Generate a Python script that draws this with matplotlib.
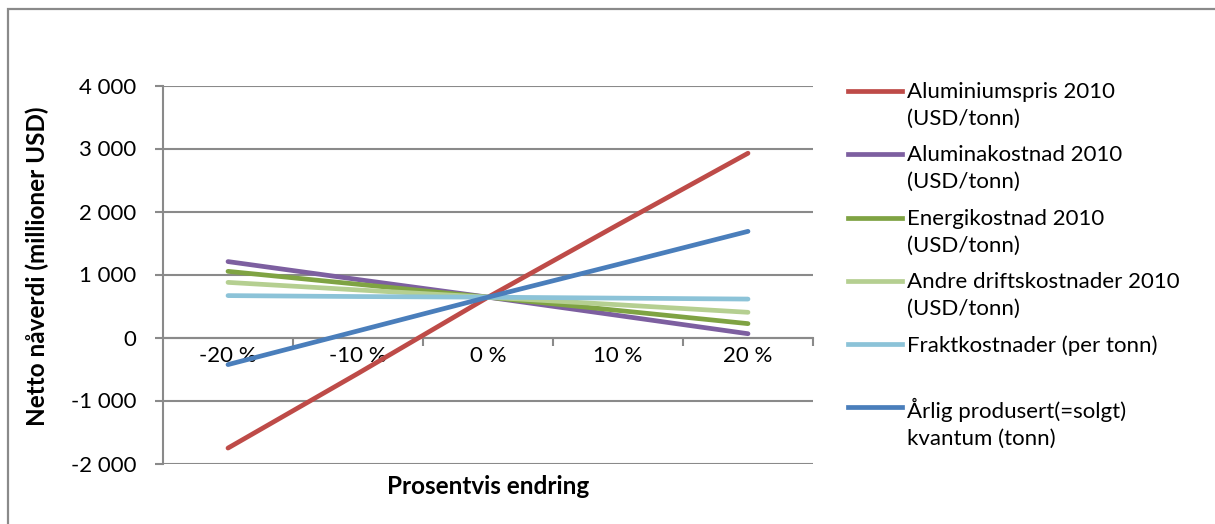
import matplotlib.pyplot as plt
from matplotlib.lines import Line2D
from matplotlib.patches import Rectangle
from matplotlib.ticker import FuncFormatter, FixedLocator

# sensitivity of net present value to +/- changes in each input
categories = ["-20 %", "-10 %", "0 %", "10 %", "20 %"]
aluminiumspris = [-1755, -570, 640, 1790, 2925]
aluminakostnad = [1205, 920, 640, 350, 60]
energikostnad = [1050, 845, 640, 430, 220]
andre_drift = [875, 755, 640, 520, 400]
fraktkostnad = [665, 650, 640, 625, 610]
kvantum = [-430, 105, 640, 1160, 1685]

series_labels = [
    "Aluminiumspris 2010\n(USD/tonn)",
    "Aluminakostnad 2010\n(USD/tonn)",
    "Energikostnad 2010\n(USD/tonn)",
    "Andre driftskostnader 2010\n(USD/tonn)",
    "Fraktkostnader (per tonn)",
    "Årlig produsert(=solgt)\nkvantum (tonn)",
]
series_values = [aluminiumspris, aluminakostnad, energikostnad,
                 andre_drift, fraktkostnad, kvantum]
series_colors = ["#BE4B48", "#7D5FA0", "#7FA343", "#B5CF91", "#8CC3D8", "#4A7EBB"]

GRID = "#8A8A8A"
W, H = 1215, 524
FS = 16

plt.rcParams["font.family"] = ["Lato", "DejaVu Sans"]

fig = plt.figure(figsize=(W / 100, H / 100), dpi=100)

# outer chart frame
fig.add_artist(Rectangle((8 / W, -0.1), 1.2, 1 - 9 / H + 0.1, transform=fig.transFigure,
                         fill=False, edgecolor=GRID, linewidth=1.6))

left, right, top, bottom = 163, 813, 85.5, 463.5
ax = fig.add_axes([left / W, 1 - bottom / H, (right - left) / W, (bottom - top) / H])

x = list(range(len(categories)))
# draw the strongly sloped series last so they sit on top
order = [3, 2, 1, 4, 5, 0]
for i in order:
    ax.plot(x, series_values[i], color=series_colors[i], lw=3.4,
            solid_capstyle="round", zorder=3 + i * 0.01)

ax.set_xlim(-0.5, len(categories) - 0.5)
ax.set_ylim(-2000, 4000)
ax.set_yticks(range(-2000, 4001, 1000))
ax.yaxis.set_major_formatter(FuncFormatter(lambda v, p: f"{int(v):,}".replace(",", " ")))
ax.grid(axis="y", color=GRID, lw=1.5, zorder=1)
ax.set_axisbelow(True)

for s in ["top", "right"]:
    ax.spines[s].set_visible(False)
ax.spines["left"].set_color(GRID)
ax.spines["left"].set_linewidth(1.5)
ax.spines["bottom"].set_position(("data", 0))
ax.spines["bottom"].set_color(GRID)
ax.spines["bottom"].set_linewidth(1.5)

ax.set_xticks(x)
ax.set_xticklabels(categories)
ax.xaxis.set_minor_locator(FixedLocator([i + 0.5 for i in x]))
ax.tick_params(axis="x", which="major", length=0, pad=6, labelsize=FS)
ax.tick_params(axis="x", which="minor", length=6, width=1.5, color=GRID, direction="out")
ax.tick_params(axis="y", length=6, width=1.5, color=GRID, pad=13, labelsize=FS)

fig.text(488 / W, 1 - 487 / H, "Prosentvis endring", ha="center", va="center",
         fontsize=17.5, fontweight="bold")
fig.text(37 / W, 1 - 266 / H, "Netto nåverdi (millioner USD)", ha="center", va="center",
         rotation=90, fontsize=17.5, fontweight="bold")

# legend to the right of the plot
legend_rows = [91, 154, 218, 281, 344, 407]
for lab, col, yr in zip(series_labels, series_colors, legend_rows):
    fig.add_artist(Line2D([848 / W, 902 / W], [1 - yr / H] * 2, transform=fig.transFigure,
                          color=col, lw=3.4))
    fig.text(907 / W, 1 - (yr - 9) / H, lab, ha="left", va="top", fontsize=FS,
             linespacing=1.45)

fig.savefig("out.png", dpi=100)
